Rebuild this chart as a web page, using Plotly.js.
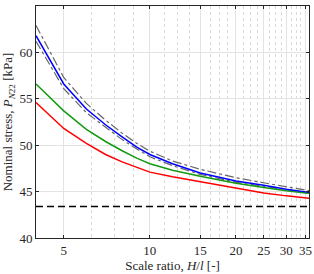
<!DOCTYPE html>
<html>
<head>
<meta charset="utf-8">
<script src="https://cdn.plot.ly/plotly-3.0.1.min.js"></script>
<style>html,body{margin:0;padding:0;background:#fff;}#chart{width:314px;height:274px;}</style>
</head>
<body>
<div id="chart"></div>
<script>
// Scale ratio H/l
const xVals = [4, 5, 6, 7, 8, 9, 10, 12, 15, 20, 25, 30, 35, 36];
// Nominal stress P_N22 [kPa]
const redVals   = [54.6, 51.8, 50.2, 49.0, 48.2, 47.6, 47.1, 46.6, 46.05, 45.38, 44.86, 44.54, 44.32, 44.28];
const greenVals = [56.6, 53.7, 51.7, 50.4, 49.4, 48.6, 48.0, 47.3, 46.66, 45.9, 45.44, 45.08, 44.86, 44.82];
const blueVals  = [61.8, 56.6, 53.9, 52.2, 50.9, 49.8, 49.0, 48.0, 47.0, 46.15, 45.68, 45.25, 44.97, 44.93];
const upperVals = [62.9, 57.3, 54.5, 52.7, 51.3, 50.2, 49.35, 48.3, 47.4, 46.5, 45.95, 45.5, 45.15, 45.1];
const lowerVals = [61.2, 56.1, 53.5, 51.9, 50.6, 49.6, 48.75, 47.8, 46.85, 46.0, 45.55, 45.15, 44.9, 44.86];
const asymptoteVal = 43.4;
const xTicks = [5, 10, 15, 20, 25, 30, 35];
const xMinorTicks = [6.25, 7.5, 8.75, 11.25, 12.5, 13.75, 16.25, 17.5, 18.75, 21.25, 22.5, 23.75, 26.25, 27.5, 28.75, 31.25, 32.5, 33.75];
const yTicks = [40, 45, 50, 55, 60, 65];

const xEnds = [4, 36];
const traces = [
  {x: xEnds, y: [asymptoteVal, asymptoteVal], mode: 'lines', line: {color: '#000000', width: 1.5, dash: '7px,4px'}},
  {x: xVals, y: upperVals, mode: 'lines', line: {color: '#666666', width: 1.2, dash: 'dashdot'}},
  {x: xVals, y: lowerVals, mode: 'lines', line: {color: '#666666', width: 1.2, dash: 'dashdot'}},
  {x: xVals, y: redVals, mode: 'lines', line: {color: '#ff0000', width: 1.5}},
  {x: xVals, y: greenVals, mode: 'lines', line: {color: '#129a12', width: 1.5}},
  {x: xVals, y: blueVals, mode: 'lines', line: {color: '#0000ff', width: 1.5}}
];

const font = {family: '"Liberation Serif", "DejaVu Serif", serif', size: 13, color: '#262626'};
const layout = {
  width: 314, height: 274,
  margin: {l: 36, r: 5, t: 6, b: 36},
  paper_bgcolor: '#ffffff', plot_bgcolor: '#ffffff',
  showlegend: false,
  font: font,
  xaxis: {
    type: 'log',
    range: [Math.log10(4), Math.log10(36)],
    tickmode: 'array', tickvals: xTicks, ticktext: xTicks.map(String),
    ticks: 'inside', ticklen: 3, tickcolor: '#262626',
    showline: true, linecolor: '#262626', linewidth: 1, mirror: 'ticks',
    showgrid: true, gridcolor: '#e3e3e3', gridwidth: 1,
    minor: {tickmode: 'array', tickvals: xMinorTicks, showgrid: true, gridcolor: '#dadada', griddash: 'dot', gridwidth: 1, ticks: ''},
    zeroline: false,
    tickfont: font,
    title: {text: 'Scale ratio, <i>H</i>/<i>l</i> [-]', font: font, standoff: 4}
  },
  yaxis: {
    range: [40, 65],
    tickmode: 'array', tickvals: yTicks,
    ticks: 'inside', ticklen: 3, tickcolor: '#262626',
    showline: true, linecolor: '#262626', linewidth: 1, mirror: 'ticks',
    showgrid: true, gridcolor: '#e3e3e3', gridwidth: 1,
    zeroline: false,
    tickfont: font,
    title: {text: 'Nominal stress, <i>P</i><sub><i>N</i>22</sub> [kPa]', font: font, standoff: 4}
  }
};
Plotly.newPlot('chart', traces, layout, {staticPlot: true, displayModeBar: false});
</script>
</body>
</html>
